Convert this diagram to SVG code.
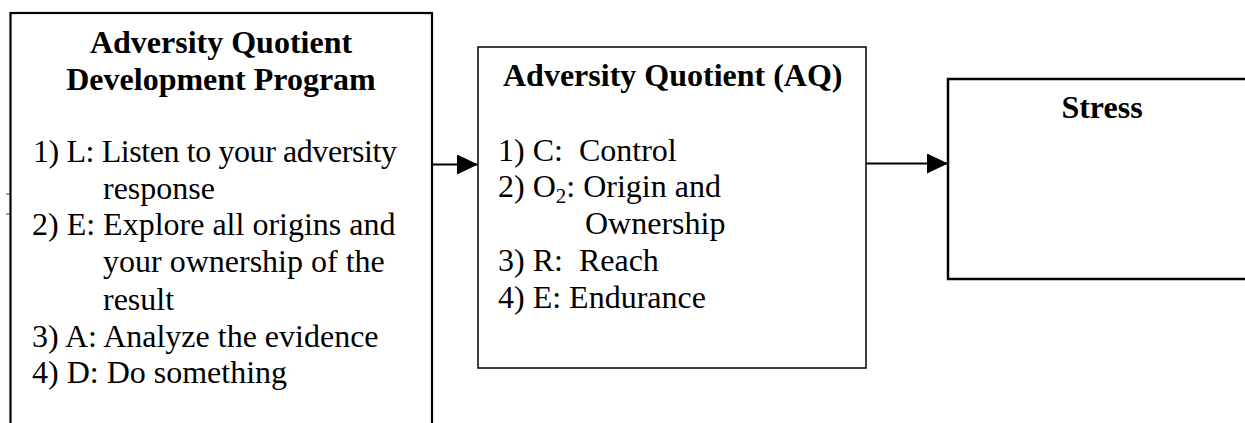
<svg xmlns="http://www.w3.org/2000/svg" width="1245" height="423" viewBox="0 0 1245 423">
<style>
.box{fill:#fff;stroke:#000}
.t{font-family:"Liberation Serif","Times New Roman",serif;font-size:32px;fill:#000}
.b{font-weight:bold}
.c{stroke:#000;stroke-width:2;fill:none}
</style>
<defs>
<marker id="ah" markerUnits="userSpaceOnUse" markerWidth="22" markerHeight="22" refX="21" refY="10" orient="auto">
<path d="M0,0 L21,10 L0,20 Z" fill="#000"/>
</marker>
</defs>
<rect width="1245" height="423" fill="#fff"/>
<g id="ticks" stroke="#444" stroke-width="1">
<line x1="6" y1="194" x2="10" y2="194"/>
<line x1="6" y1="214" x2="10" y2="214"/>
</g>
<g id="node-program">
<rect class="box" x="10.5" y="13" width="421.5" height="430" stroke-width="2.2"/>
<text class="t b" x="221" y="53" text-anchor="middle">Adversity Quotient</text>
<text class="t b" x="221" y="90" text-anchor="middle">Development Program</text>
<text class="t" x="33" y="162" textLength="364" lengthAdjust="spacing">1) L: Listen to your adversity</text>
<text class="t" x="103" y="199">response</text>
<text class="t" x="32" y="235">2) E: Explore all origins and</text>
<text class="t" x="103" y="272">your ownership of the</text>
<text class="t" x="103" y="310">result</text>
<text class="t" x="32" y="347">3) A: Analyze the evidence</text>
<text class="t" x="32" y="383">4) D: Do something</text>
</g>
<g id="node-aq">
<rect class="box" x="478" y="47" width="388" height="321" stroke-width="1.5"/>
<text class="t b" x="503" y="86">Adversity Quotient (AQ)</text>
<text class="t" x="498" y="161" xml:space="preserve">1) C:  Control</text>
<text class="t" x="498" y="197">2) O<tspan font-size="21" dy="6">2</tspan><tspan dy="-6">: Origin and</tspan></text>
<text class="t" x="585" y="234">Ownership</text>
<text class="t" x="498" y="271" xml:space="preserve">3) R:  Reach</text>
<text class="t" x="498" y="308">4) E: Endurance</text>
</g>
<g id="node-stress">
<rect class="box" x="948" y="79" width="320" height="200" stroke-width="2.5"/>
<text class="t b" x="1102" y="118" text-anchor="middle">Stress</text>
</g>
<g id="connectors">
<line class="c" x1="432" y1="164.5" x2="478" y2="164.5" marker-end="url(#ah)"/>
<line class="c" x1="866" y1="163.5" x2="948" y2="163.5" marker-end="url(#ah)"/>
</g>
</svg>
